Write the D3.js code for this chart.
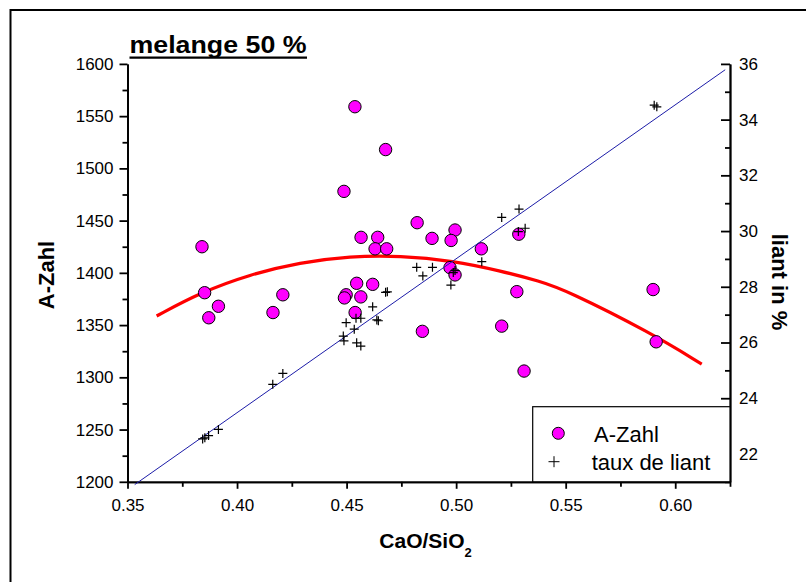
<!DOCTYPE html>
<html>
<head>
<meta charset="utf-8">
<script src="https://cdn.jsdelivr.net/npm/d3@7"></script>
<style>
  body { margin: 0; background: #fff; }
  svg { font-family: "Liberation Sans", Arial, sans-serif; }
  .axis path, .axis line { stroke: #000; stroke-width: 1.8; }
  .axis text { font-size: 17px; fill: #000; }
</style>
</head>
<body>
<div id="chart"></div>
<script>
// CaO/SiO2 ratio for each A-Zahl point
var ratioA = [0.4538, 0.4678, 0.4488, 0.4822, 0.4995, 0.4977, 0.4890, 0.4566, 0.4642,
  0.4630, 0.4683, 0.5115, 0.5286, 0.3840, 0.3852, 0.3915, 0.3871, 0.4164, 0.4209,
  0.4498, 0.4490, 0.4546, 0.4565, 0.4539, 0.4619, 0.4972, 0.4995, 0.5277, 0.5208,
  0.4846, 0.5310, 0.5899, 0.5913];
var aZahl = [1559, 1518, 1478, 1448, 1441, 1431, 1433, 1434, 1434,
  1423, 1423, 1423, 1437, 1425, 1381, 1368, 1357, 1362, 1379,
  1379, 1376, 1390, 1377, 1362, 1389, 1405, 1398, 1382, 1349,
  1344, 1306, 1384, 1334];

// CaO/SiO2 ratio for each taux de liant point
var ratioL = [0.5904, 0.5916, 0.5287, 0.5208, 0.5284, 0.5315, 0.5117, 0.4820, 0.4892,
  0.4848, 0.4976, 0.4987, 0.4995, 0.4678, 0.4686, 0.4619, 0.4638, 0.4645, 0.4565,
  0.4543, 0.4498, 0.4535, 0.4485, 0.4488, 0.4546, 0.4565, 0.4163, 0.4209, 0.3843,
  0.3853, 0.3870, 0.3915];
var liant = [34.52, 34.46, 30.79, 30.49, 29.98, 30.10, 28.90, 28.70, 28.70,
  28.39, 28.06, 28.51, 28.58, 27.80, 27.82, 27.28, 26.81, 26.78, 26.87,
  26.87, 26.71, 26.48, 26.23, 26.06, 25.99, 25.87, 24.50, 24.89, 22.54,
  22.58, 22.66, 22.88];

// polynomial fit of A-Zahl
var fitAx = [0.3633, 0.3831, 0.4059, 0.4288, 0.4516, 0.4744, 0.4987, 0.5201, 0.5383, 0.5505, 0.5885, 0.6121];
var fitAy = [1358.7, 1381, 1398.5, 1410, 1416, 1416.5, 1411.5, 1402, 1392, 1383, 1343, 1312.7];

// linear fit of taux de liant
var fitLx = [0.3533, 0.6228];
var fitLy = [20.9, 35.79];

var xTicks = [0.35, 0.40, 0.45, 0.50, 0.55, 0.60];
var yLeftTicks = [1200, 1250, 1300, 1350, 1400, 1450, 1500, 1550, 1600];
var yRightTicks = [22, 24, 26, 28, 30, 32, 34, 36];

var svgWidth = 806, svgHeight = 582;
var plot = {left: 127.5, right: 730, top: 63.9, bottom: 481.8};

var xScale = d3.scaleLinear().domain([0.35, 0.625]).range([plot.left, plot.right]);
var yLeft = d3.scaleLinear().domain([1200, 1600]).range([plot.bottom, plot.top]);
var yRight = d3.scaleLinear().domain([21, 36]).range([plot.bottom, plot.top]);

var svg = d3.select('#chart').append('svg')
  .attr('width', svgWidth)
  .attr('height', svgHeight);

// outer frame
svg.append('rect')
  .attr('x', 10.5).attr('y', 10).attr('width', 900).attr('height', 900)
  .attr('fill', 'none').attr('stroke', '#000').attr('stroke-width', 2);

// minor ticks
svg.append('g').attr('class', 'axis')
  .attr('transform', 'translate(0,' + plot.bottom + ')')
  .call(d3.axisBottom(xScale).tickValues(d3.range(0.375, 0.63, 0.05)).tickSize(5).tickFormat('').tickSizeOuter(0));
svg.append('g').attr('class', 'axis')
  .attr('transform', 'translate(' + plot.left + ',0)')
  .call(d3.axisLeft(yLeft).tickValues(d3.range(1225, 1600, 50)).tickSize(5).tickFormat('').tickSizeOuter(0));
svg.append('g').attr('class', 'axis')
  .attr('transform', 'translate(' + plot.right + ',0)')
  .call(d3.axisRight(yRight).tickValues(d3.range(21, 36, 2)).tickSizeInner(-5).tickFormat('').tickSizeOuter(0));

// major axes
svg.append('g').attr('class', 'axis')
  .attr('transform', 'translate(0,' + plot.bottom + ')')
  .call(d3.axisBottom(xScale).tickValues(xTicks).tickFormat(d3.format('.2f')).tickSize(7).tickPadding(10).tickSizeOuter(0));
svg.append('g').attr('class', 'axis')
  .attr('transform', 'translate(' + plot.left + ',0)')
  .call(d3.axisLeft(yLeft).tickValues(yLeftTicks).tickFormat(d3.format('d')).tickSize(8).tickPadding(6).tickSizeOuter(0));
svg.append('g').attr('class', 'axis')
  .attr('transform', 'translate(' + plot.right + ',0)')
  .call(d3.axisRight(yRight).tickValues(yRightTicks).tickFormat(d3.format('d')).tickSizeInner(-9).tickPadding(9).tickSizeOuter(0));

// red polynomial fit
var line = d3.line().curve(d3.curveBasis);
svg.append('path')
  .attr('d', line(fitAx.map(function(d, i) { return [xScale(d), yLeft(fitAy[i])]; })))
  .attr('fill', 'none').attr('stroke', '#ff0000').attr('stroke-width', 3.2);

// A-Zahl circles
svg.append('g').selectAll('circle')
  .data(ratioA)
  .enter()
  .append('circle')
  .attr('cx', function(d) { return xScale(d); })
  .attr('cy', function(d, i) { return yLeft(aZahl[i]); })
  .attr('r', 6.2)
  .attr('fill', '#ff00ff')
  .attr('stroke', '#000')
  .attr('stroke-width', 1);

// blue linear fit
svg.append('path')
  .attr('d', d3.line()(fitLx.map(function(d, i) { return [xScale(d), yRight(fitLy[i])]; })))
  .attr('fill', 'none').attr('stroke', '#1c1ca8').attr('stroke-width', 1);

// taux de liant crosses
svg.append('g').selectAll('path')
  .data(ratioL)
  .enter()
  .append('path')
  .attr('d', 'M-4.5,0H4.5M0,-4.5V4.5')
  .attr('transform', function(d, i) { return 'translate(' + xScale(d) + ',' + yRight(liant[i]) + ')'; })
  .attr('stroke', '#000').attr('stroke-width', 1.2).attr('fill', 'none');

// legend
var legend = svg.append('g');
legend.append('rect')
  .attr('x', 532.7).attr('y', 406.7)
  .attr('width', plot.right - 532.7).attr('height', plot.bottom - 406.7)
  .attr('fill', '#fff').attr('stroke', '#000').attr('stroke-width', 1.2);
legend.append('circle')
  .attr('cx', 558.3).attr('cy', 433.3).attr('r', 6)
  .attr('fill', '#ff00ff').attr('stroke', '#000');
legend.append('text')
  .attr('x', 594).attr('y', 441.7)
  .style('font-size', '22px')
  .text('A-Zahl');
legend.append('path')
  .attr('d', 'M-5.5,0H5.5M0,-5.5V5.5')
  .attr('transform', 'translate(554,461.7)')
  .attr('stroke', '#000').attr('stroke-width', 1);
legend.append('text')
  .attr('x', 591.7).attr('y', 470)
  .style('font-size', '22px')
  .text('taux de liant');

// title
svg.append('text')
  .attr('x', 129.5).attr('y', 53.3)
  .attr('textLength', 177).attr('lengthAdjust', 'spacingAndGlyphs')
  .style('font-size', '23px').style('font-weight', 'bold')
  .text('melange 50 %');
svg.append('line')
  .attr('x1', 129.5).attr('x2', 307).attr('y1', 57.6).attr('y2', 57.6)
  .attr('stroke', '#000').attr('stroke-width', 2.3);

// axis titles
svg.append('text')
  .attr('transform', 'translate(54,275) rotate(-90)')
  .attr('text-anchor', 'middle')
  .style('font-size', '22px').style('font-weight', 'bold')
  .text('A-Zahl');
svg.append('text')
  .attr('transform', 'translate(772,282) rotate(90)')
  .attr('text-anchor', 'middle')
  .style('font-size', '22px').style('font-weight', 'bold')
  .text('liant in %');
var xt = svg.append('text')
  .attr('x', 379.3).attr('y', 548.3)
  .style('font-size', '21px').style('font-weight', 'bold');
xt.append('tspan').text('CaO/SiO');
xt.append('tspan').attr('dy', 9).style('font-size', '13px').text('2');
</script>
</body>
</html>
